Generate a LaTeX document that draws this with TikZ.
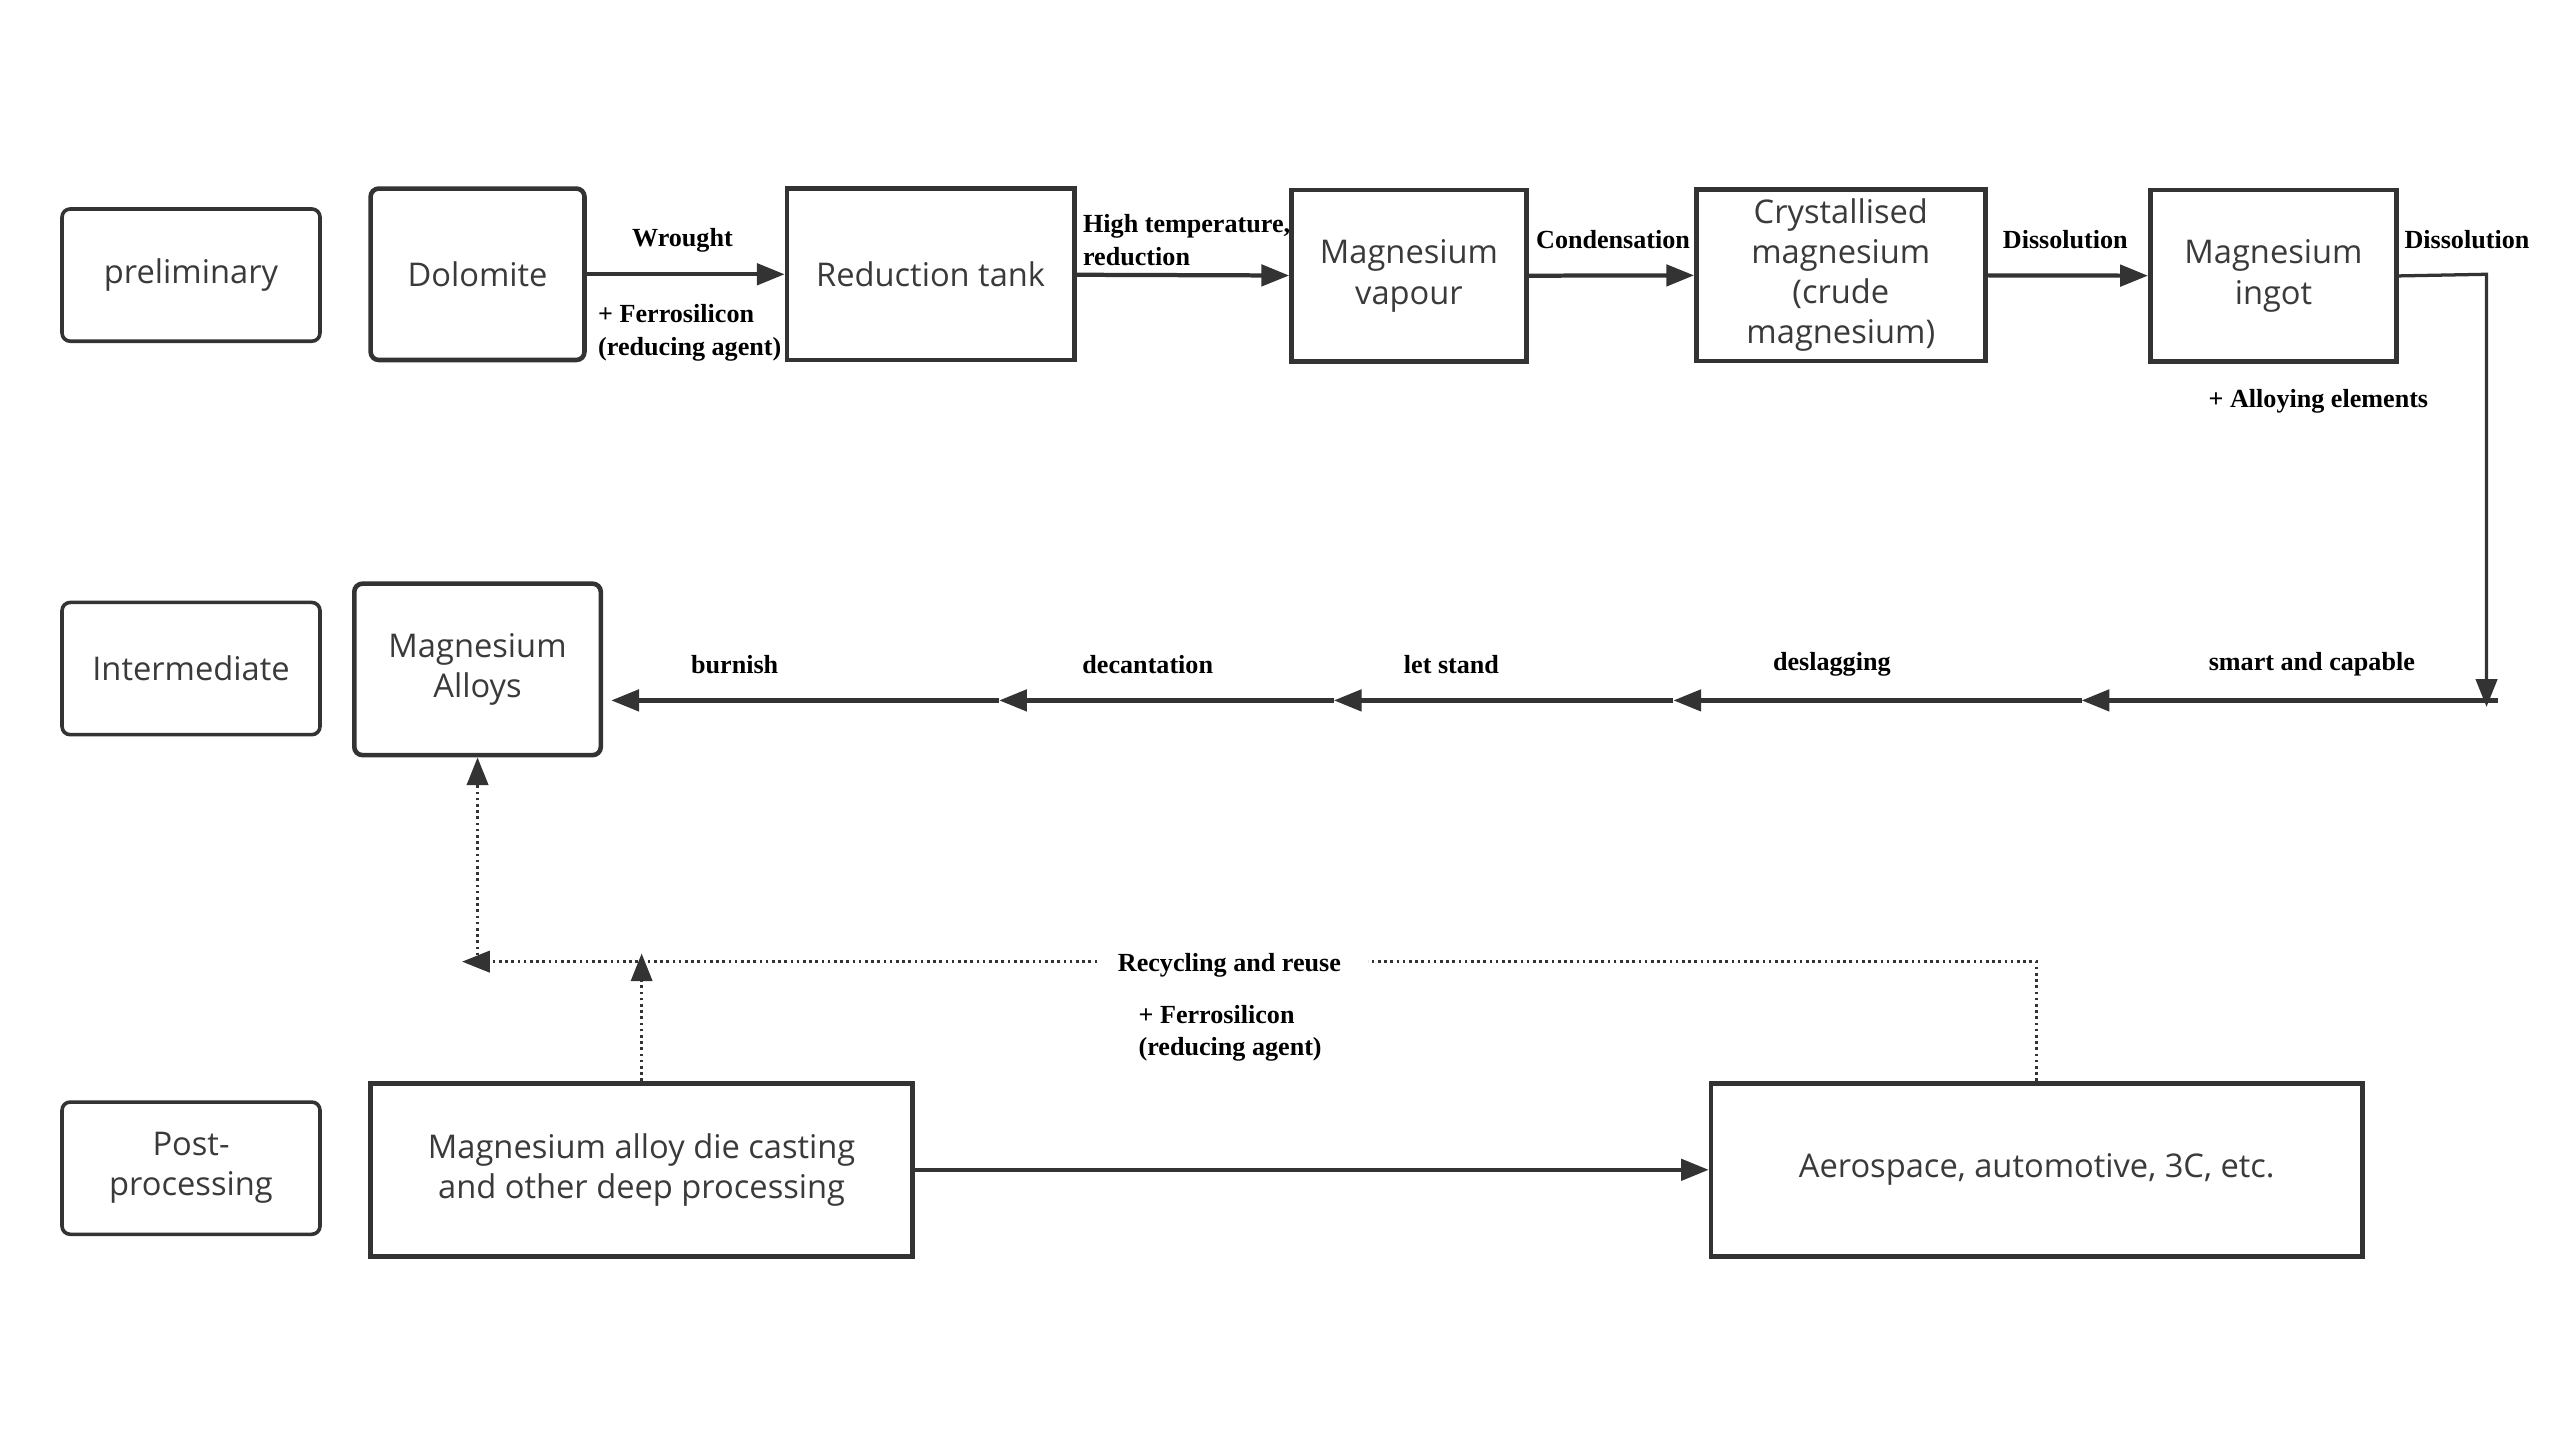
\documentclass[tikz,border=0pt]{standalone}
\usepackage{fontspec}
\setmainfont{Liberation Serif}
\newfontfamily\boxfont{Open Sans}
\usetikzlibrary{arrows.meta}
\definecolor{ln}{HTML}{333333}
\definecolor{tx}{HTML}{3A3A3A}
\begin{document}
\begin{tikzpicture}[x=0.5pt,y=-0.5pt,
  stage/.style={draw=ln, line width=1.1pt, rounded corners=2.5pt, font=\boxfont\fontsize{10}{12.5}\selectfont, text=tx, align=center, inner sep=0pt, minimum width=79pt, minimum height=40.5pt},
  proc/.style={draw=ln, line width=1.4pt, font=\boxfont\fontsize{10}{12.2}\selectfont, text=tx, align=center, inner sep=0pt, minimum height=52.5pt},
  lab/.style={font=\bfseries\fontsize{8}{10}\selectfont, text=black, inner sep=0pt},
  arr/.style={draw=ln, line width=1.3pt, -{Triangle[length=8.5pt,width=6.5pt]}},
  dotln/.style={draw=ln, line width=1pt, dash pattern=on 0.8pt off 1.1pt},
  darr/.style={dotln, -{Triangle[length=8.5pt,width=6.5pt]}}]
\useasboundingbox[fill=white] (0,0) rectangle (1568,882);

% stage boxes
\node[stage] (pre) at (117,168.5) {preliminary};
\node[stage] (int) at (117,409.5) {Intermediate};
\node[stage, font=\boxfont\fontsize{10}{12.3}\selectfont] (post) at (117,715.5) {Post-\\processing};

% top row
\node[proc, rounded corners=2.5pt, minimum width=65.5pt] (dolo) at (292.5,168) {Dolomite};
\node[proc, minimum width=88pt] (red) at (570,168) {Reduction tank};
\node[proc, minimum width=72pt, font=\boxfont\fontsize{10}{12.5}\selectfont] (vap) at (863,169) {Magnesium\\vapour};
\node[proc, minimum width=88.5pt] (cry) at (1127.5,168.5) {Crystallised\\magnesium\\(crude\\magnesium)};
\node[proc, minimum width=75.5pt, font=\boxfont\fontsize{10}{12.5}\selectfont] (ing) at (1392.5,169) {Magnesium\\ingot};

% middle
\node[proc, rounded corners=2.5pt, minimum width=75.5pt, font=\boxfont\fontsize{10}{12}\selectfont] (alloy) at (292.5,410) {Magnesium\\Alloys};

% bottom
\node[proc, minimum width=166pt, minimum height=53pt] (die) at (393,716.5) {Magnesium alloy die casting\\and other deep processing};
\node[proc, minimum width=199.5pt, minimum height=53pt] (aero) at (1247.5,716.5) {Aerospace, automotive, 3C, etc.};

% top arrows
\draw[arr] (dolo) -- (red);
\draw[arr] (red) -- (vap);
\draw[arr] (vap) -- (cry);
\draw[arr] (cry) -- (ing);
\coordinate (c1) at (1523,168);
\coordinate (c2) at (1523,433);
\draw[arr, line width=1pt] (ing.east) -- (c1) -- (c2);

\node[lab] (lw) at (418,147) {Wrought};
\node[lab, align=left, anchor=west] (lf1) at (366,204) {+ Ferrosilicon\\(reducing agent)};
\node[lab, align=left, anchor=west] (lh) at (663,147) {High temperature,\\reduction};
\node[lab] (lc) at (988,147) {Condensation};
\node[lab] (ld1) at (1265,147) {Dissolution};
\node[lab] (ld2) at (1511,147) {Dissolution};
\node[lab] (la) at (1420,246) {+ Alloying elements};

% middle arrows
\coordinate (m0) at (1530,429);
\coordinate (m1) at (1275,429);
\coordinate (m2) at (1025,429);
\coordinate (m3) at (817,429);
\coordinate (m4) at (612,429);
\draw[arr] (m0) -- (m1);
\draw[arr] (m1) -- (m2);
\draw[arr] (m2) -- (m3);
\draw[arr] (m3) -- (m4);
\draw[arr, shorten >=2.5pt] (m4) -- (alloy.east |- m4);

\node[lab] (l1) at (1416,407) {smart and capable};
\node[lab] (l2) at (1122,407) {deslagging};
\node[lab] (l3) at (889,407) {let stand};
\node[lab] (l4) at (703,407) {decantation};
\node[lab] (l5) at (450,407) {burnish};

% bottom
\draw[arr] (die) -- (aero);
\coordinate (gR) at (838,589);
\coordinate (gL) at (672,589);
\coordinate (dl) at (283,589);
\coordinate (dj) at (292.5,589);
\coordinate (du) at (393,584);
\draw[dotln] (aero.north) |- (gR);
\draw[darr] (gL) -- (dl);
\draw[darr] (dj) -- (alloy.south);
\draw[darr] (die.north) -- (du);
\node[lab] (lr) at (753,591) {Recycling and reuse};
\node[lab, align=left, anchor=west] (lf2) at (697,633) {+ Ferrosilicon\\(reducing agent)};
\end{tikzpicture}
\end{document}
